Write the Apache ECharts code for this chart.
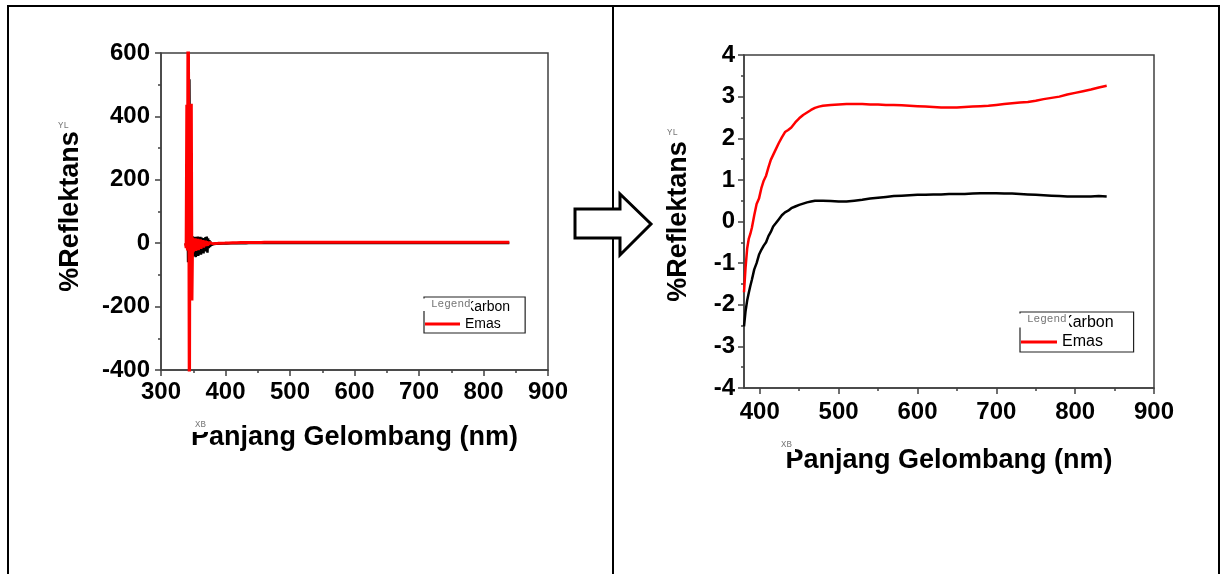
<!DOCTYPE html>
<html>
<head>
<meta charset="utf-8">
<title>Reflektans</title>
<script src="https://cdn.jsdelivr.net/npm/echarts@6/dist/echarts.min.js"></script>
<style>
html, body { margin: 0; padding: 0; background: #fff; }
#chart { width: 1226px; height: 574px; }
</style>
</head>
<body>
<div id="chart"></div>
<script>
// panjang gelombang (nm), bagian halus 380-840
const wavelength = [380, 382, 384, 386, 388, 390, 393, 396, 399, 402, 405, 408, 411, 414, 417, 420, 424, 428, 432, 436,
  440, 445, 450, 455, 460, 465, 470, 475, 480, 490, 500, 510, 520, 530, 540, 550, 560, 570, 580, 590,
  600, 610, 620, 630, 640, 650, 660, 670, 680, 690, 700, 710, 720, 730, 740, 750, 760, 770, 780, 790,
  800, 810, 820, 830, 840]
const karbon = [-2.52, -2.15, -1.9, -1.72, -1.55, -1.4, -1.15, -1.0, -0.8, -0.68, -0.58, -0.5, -0.35, -0.25, -0.12, -0.05, 0.05, 0.15, 0.22, 0.26,
  0.32, 0.36, 0.4, 0.43, 0.46, 0.48, 0.5, 0.5, 0.5, 0.49, 0.48, 0.48, 0.5, 0.52, 0.55, 0.57, 0.59, 0.61, 0.62, 0.63,
  0.64, 0.64, 0.65, 0.65, 0.66, 0.66, 0.66, 0.67, 0.68, 0.68, 0.68, 0.67, 0.67, 0.66, 0.65, 0.64, 0.63, 0.62, 0.61, 0.6,
  0.6, 0.6, 0.6, 0.61, 0.6]
const emas = [-1.7, -1.1, -0.65, -0.42, -0.3, -0.15, 0.15, 0.42, 0.55, 0.8, 0.98, 1.1, 1.3, 1.48, 1.6, 1.72, 1.88, 2.02, 2.15, 2.2,
  2.26, 2.38, 2.48, 2.56, 2.62, 2.68, 2.73, 2.76, 2.78, 2.8, 2.81, 2.82, 2.82, 2.82, 2.81, 2.81, 2.8, 2.8, 2.79, 2.78,
  2.77, 2.76, 2.75, 2.74, 2.74, 2.74, 2.75, 2.76, 2.77, 2.78, 2.8, 2.82, 2.84, 2.86, 2.87, 2.9, 2.94, 2.97, 3.0, 3.05,
  3.09, 3.13, 3.17, 3.22, 3.26]

// bagian awal yang berisik (338-379 nm), hanya tampak di grafik kiri
const noiseWavelength = [338, 339, 340, 341, 342, 343, 344, 345, 346, 347, 348, 349, 350, 351, 352, 353, 354, 355, 356, 357,
  358, 359, 360, 361, 362, 363, 364, 365, 366, 367, 368, 369, 370, 371, 372, 373, 374, 375, 376, 377, 378, 379]
const karbonNoise = [0, -8, 25, 140, -60, 310, 517, 120, -171, 70, -35, 22, -42, 16, -30, 20, -44, 19, -28, 21,
  -40, 14, -26, 20, -36, 18, -22, 16, -32, 12, -26, 19, -22, 21, -30, 15, -16, 10, -12, 5, -6, -3]
const emasNoise = [0, -15, 437, -23, 900, 380, -700, 437, -25, 440, -181, 18, -28, 12, -20, 15, -24, 10, -18, 14,
  -22, 9, -15, 12, -18, 8, -12, 10, -14, 6, -10, 8, -9, 6, -8, 5, -5, 3, -3, 2, -2, -1.5]

// tick grafik kanan (min 380 bukan kelipatan 100)
const rightXTicks = [400, 500, 600, 700, 800, 900]
const rightXMinor = [450, 550, 650, 750, 850]

const seriesNames = ['Karbon', 'Emas']

const font = 'Liberation Sans, Arial, sans-serif'
const axisColor = '#404040'

function pairs(xs, ys) {
  return xs.map((x, i) => [x, ys[i]])
}

const tickLabel = (margin) => ({
  margin: margin,
  color: '#000',
  fontFamily: font,
  fontWeight: 'bold',
  fontSize: 24
})
const axisName = {
  color: '#000',
  fontFamily: font,
  fontWeight: 'bold',
  fontSize: 27
}
const axisLine = { show: true, onZero: false, lineStyle: { color: axisColor, width: 1.5 } }
const tickStyle = { color: axisColor, width: 1.5 }

function legendBox(left, top, itemWidth, itemGap, fontSize, padding) {
  return {
    left: left,
    top: top,
    orient: 'vertical',
    data: seriesNames,
    icon: 'rect',
    itemWidth: itemWidth,
    itemHeight: 3,
    itemGap: itemGap,
    padding: padding,
    borderColor: '#222',
    borderWidth: 1.2,
    backgroundColor: '#fff',
    selectedMode: false,
    textStyle: { fontFamily: font, fontSize: fontSize, color: '#000' }
  }
}

// label kecil sisa dari Origin ("Legend", "YL", "XB"), dengan kotak putih penutup
function tag(x, y, text, cover, size) {
  const children = [
    { type: 'text', z: 101, x: x, y: y, style: { text: text, fill: '#777', font: size + 'px Liberation Mono' } }
  ]
  if (cover) {
    children.unshift({ type: 'rect', z: 100, shape: { x: cover[0], y: cover[1], width: cover[2], height: cover[3] }, style: { fill: '#fff' } })
  }
  return { type: 'group', children: children }
}

const chart = echarts.init(document.getElementById('chart'))
chart.setOption({
  animation: false,
  backgroundColor: '#fff',
  grid: [
    { left: 161, top: 53, width: 387, height: 317, show: true, borderColor: axisColor, borderWidth: 1.5 },
    { left: 744, top: 55, width: 410, height: 333, show: true, borderColor: axisColor, borderWidth: 1.5 }
  ],
  xAxis: [
    {
      gridIndex: 0, type: 'value', min: 300, max: 900, interval: 100, position: 'bottom',
      name: 'Panjang Gelombang (nm)', nameLocation: 'middle', nameGap: 54, nameTextStyle: axisName,
      axisLine: axisLine,
      axisTick: { length: 6, lineStyle: tickStyle },
      minorTick: { show: true, splitNumber: 2, length: 3, lineStyle: tickStyle },
      axisLabel: tickLabel(10),
      splitLine: { show: false }
    },
    {
      gridIndex: 1, type: 'value', min: 380, max: 900, position: 'bottom',
      name: 'Panjang Gelombang (nm)', nameLocation: 'middle', nameGap: 59, nameTextStyle: axisName,
      axisLine: axisLine,
      axisTick: { customValues: rightXTicks, length: 6, lineStyle: tickStyle },
      axisLabel: Object.assign({ customValues: rightXTicks }, tickLabel(12)),
      splitLine: { show: false }
    },
    {
      gridIndex: 1, type: 'value', min: 380, max: 900, position: 'bottom',
      axisLine: { show: false, onZero: false },
      axisTick: { customValues: rightXMinor, length: 3, lineStyle: tickStyle },
      axisLabel: { show: false },
      splitLine: { show: false }
    }
  ],
  yAxis: [
    {
      gridIndex: 0, type: 'value', min: -400, max: 600, interval: 200, position: 'left',
      name: '%Reflektans', nameLocation: 'middle', nameGap: 77, nameTextStyle: axisName,
      axisLine: axisLine,
      axisTick: { show: true, length: 6, lineStyle: tickStyle },
      minorTick: { show: true, splitNumber: 2, length: 3, lineStyle: tickStyle },
      axisLabel: tickLabel(11),
      splitLine: { show: false }
    },
    {
      gridIndex: 1, type: 'value', min: -4, max: 4, interval: 1, position: 'left',
      name: '%Reflektans', nameLocation: 'middle', nameGap: 52, nameTextStyle: axisName,
      axisLine: axisLine,
      axisTick: { show: true, length: 6, lineStyle: tickStyle },
      minorTick: { show: true, splitNumber: 2, length: 3, lineStyle: tickStyle },
      axisLabel: tickLabel(9),
      splitLine: { show: false }
    }
  ],
  legend: [
    legendBox(424, 297, 35, 3, 14, [3, 15, 2, 1]),
    legendBox(1020, 312, 36, 3, 16, [3, 20, 2, 1])
  ],
  series: [
    {
      name: 'Karbon', type: 'line', xAxisIndex: 0, yAxisIndex: 0, symbol: 'none',
      lineStyle: { color: '#000', width: 2.5 }, itemStyle: { color: '#000' },
      data: pairs(noiseWavelength, karbonNoise).concat(pairs(wavelength, karbon))
    },
    {
      name: 'Emas', type: 'line', xAxisIndex: 0, yAxisIndex: 0, symbol: 'none',
      lineStyle: { color: '#ff0000', width: 3 }, itemStyle: { color: '#ff0000' },
      data: pairs(noiseWavelength, emasNoise).concat(pairs(wavelength, emas))
    },
    {
      name: 'Karbon', type: 'line', xAxisIndex: 1, yAxisIndex: 1, symbol: 'none',
      lineStyle: { color: '#000', width: 2.5 }, itemStyle: { color: '#000' },
      data: pairs(wavelength, karbon)
    },
    {
      name: 'Emas', type: 'line', xAxisIndex: 1, yAxisIndex: 1, symbol: 'none',
      lineStyle: { color: '#ff0000', width: 2.5 }, itemStyle: { color: '#ff0000' },
      data: pairs(wavelength, emas)
    }
  ],
  graphic: [
    // bingkai luar dan garis pemisah
    {
      type: 'polyline', z: 90,
      shape: { points: [[8, 574], [8, 6], [1219, 6], [1219, 574]] },
      style: { stroke: '#000', lineWidth: 2, fill: null }
    },
    {
      type: 'line', z: 90,
      shape: { x1: 613, y1: 6, x2: 613, y2: 574 },
      style: { stroke: '#000', lineWidth: 2 }
    },
    // panah
    {
      type: 'polygon', z: 95,
      shape: { points: [[575, 209], [620, 209], [620, 194], [651, 224], [620, 255], [620, 238], [575, 238]] },
      style: { fill: '#fff', stroke: '#000', lineWidth: 3 }
    },
    tag(431, 299, 'Legend', [423, 298.5, 48, 12.5], 11),
    tag(1027, 314, 'Legend', [1019, 313.5, 50, 14], 11),
    tag(58, 121, 'YL', null, 9),
    tag(667, 128, 'YL', null, 9),
    tag(195, 420, 'XB', [189, 418, 20, 14], 9),
    tag(781, 440, 'XB', [775, 438, 20, 14], 9)
  ]
})
</script>
</body>
</html>
